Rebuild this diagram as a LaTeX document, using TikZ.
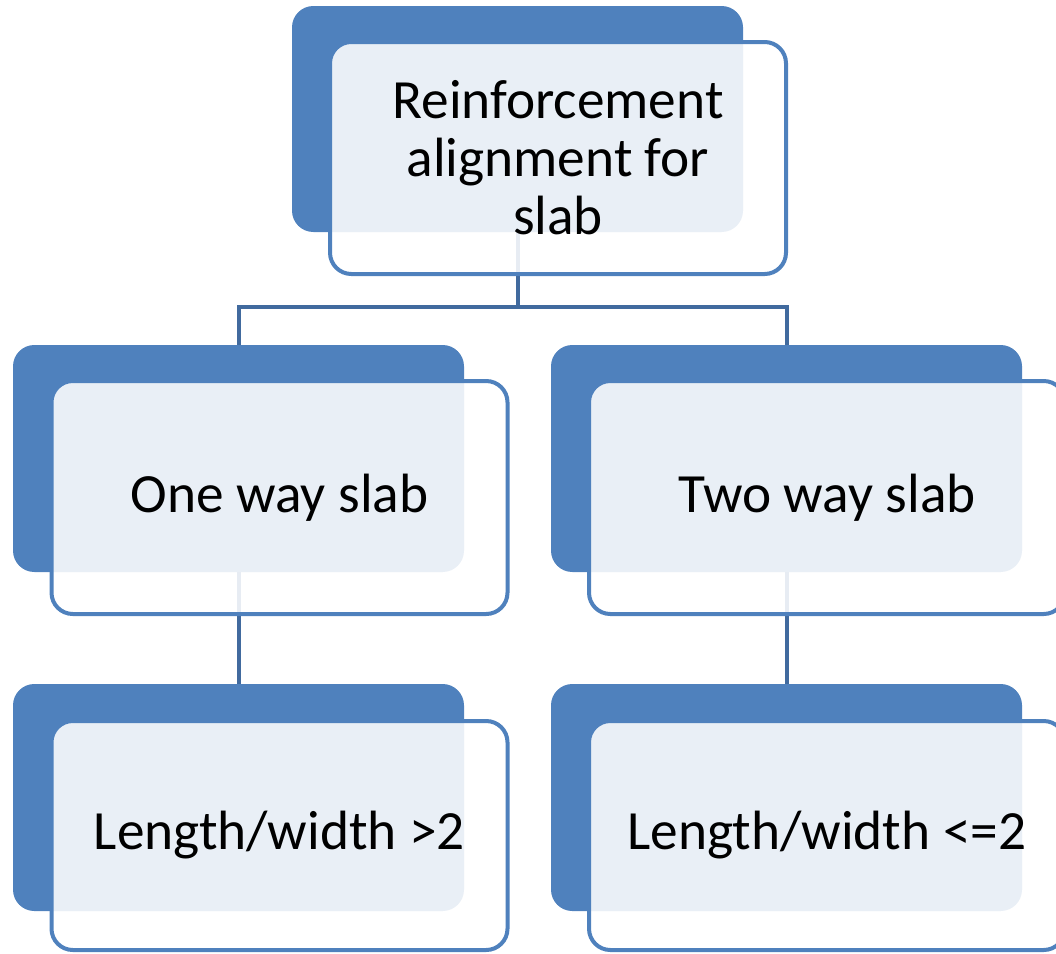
\documentclass[tikz,border=0pt]{standalone}
\usepackage{fontspec}
\setmainfont{Carlito}
\definecolor{accent}{HTML}{4F81BD}
\definecolor{linkblue}{HTML}{416A9E}
\tikzset{
  backbox/.style={fill=accent, draw=none, rounded corners=16pt, inner sep=0pt},
  frontbox/.style={draw=accent, line width=3pt, fill=white, fill opacity=0.88, text opacity=1,
    rounded corners=16pt, inner sep=0pt, align=center,
    font=\fontsize{41.5}{43.5}\selectfont},
  link/.style={draw=linkblue, line width=3pt}
}
\begin{document}
\begin{tikzpicture}[x=0.75pt,y=-0.75pt]
\useasboundingbox (0,0) rectangle (1056,953);
\clip (0,0) rectangle (1056,953);
% back boxes
\node[backbox, minimum width={451*0.75pt}, minimum height={226*0.75pt}] (topback) at (517.5,119) {};
\node[backbox, minimum width={451*0.75pt}, minimum height={227*0.75pt}] (l1back) at (238.5,458.5) {};
\node[backbox, minimum width={471*0.75pt}, minimum height={227*0.75pt}] (r1back) at (786.5,458.5) {};
\node[backbox, minimum width={451*0.75pt}, minimum height={227*0.75pt}] (l2back) at (238.5,797.5) {};
\node[backbox, minimum width={471*0.75pt}, minimum height={227*0.75pt}] (r2back) at (786.5,797.5) {};
% connectors
\coordinate (bar) at (517.5,307);
\draw[link] (topback.south) -- (bar) -| (l1back.north);
\draw[link] (bar) -| (r1back.north);
\draw[link] (l1back.south) -- (l2back.north);
\draw[link] (r1back.south) -- (r2back.north);
% front boxes
\node[frontbox, minimum width={456*0.75pt}, minimum height={232*0.75pt}] (topfront) at (558,158) {Reinforcement\\alignment for\\slab};
\node[frontbox, minimum width={456*0.75pt}, minimum height={233*0.75pt}] (l1front) at (279.5,497.5) {One way slab};
\node[frontbox, minimum width={476*0.75pt}, minimum height={233*0.75pt}] (r1front) at (827,497.5) {Two way slab};
\node[frontbox, minimum width={456*0.75pt}, minimum height={229*0.75pt}] (l2front) at (279.5,835.5) {Length/width >2};
\node[frontbox, minimum width={476*0.75pt}, minimum height={229*0.75pt}] (r2front) at (827,835.5) {Length/width <=2};
\end{tikzpicture}
\end{document}
